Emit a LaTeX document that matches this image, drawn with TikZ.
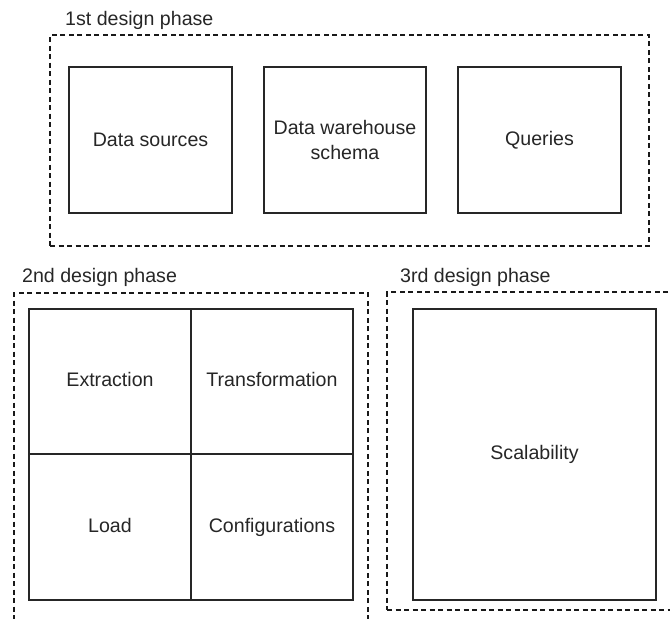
\documentclass[tikz,border=0pt]{standalone}
\usepackage{fontspec}
\setmainfont{Liberation Sans}
\usetikzlibrary{fit}
\usetikzlibrary{positioning}

\tikzset{
  phase/.style={draw=black!90, dash pattern=on 5pt off 3.5pt, line width=1.3pt, inner sep=0pt},
  phaselabel/.style={anchor=base west, inner sep=0pt, text=black!85},
  task/.style={draw=black!85, line width=1.6pt, outer sep=0pt, inner sep=2pt, align=center, text=black!85, minimum width=163pt, minimum height=146pt},
  cell/.style={draw=black!85, line width=1.6pt, outer sep=0pt, text=black!85, text height=14pt, text depth=4pt, minimum width=162pt, minimum height=145.5pt},
}

\begin{document}
\begin{tikzpicture}[x=1pt, y=-1pt, font=\fontsize{19.6}{24.5}\selectfont, node distance=32pt]
\useasboundingbox (0,0) rectangle (670,619);
\clip (0,0) rectangle (670,619);
% 1st design phase
\node[phaselabel] (label1) at (65,25) {1st design phase};
\node[phase, fit={(50,35) (649,246)}] (frame1) {};
\node[task] (sources) at (150.5,140) {Data sources};
\node[task, right=of sources, minimum width=162pt] (schema) {Data warehouse\\schema};
\node[task, right=of schema] (queries) {Queries};
% 2nd design phase
\node[phaselabel] (label2) at (22,282) {2nd design phase};
\node[phase, fit={(14,293) (368,640)}] (frame2) {};
\node[cell] (extract) at (110,381.5) {Extraction};
\node[cell, right=0pt of extract] (transform) {Transformation};
\node[cell, below=0pt of extract] (load) {Load};
\node[cell, right=0pt of load] (config) {Configurations};
% 3rd design phase
\node[phaselabel] (label3) at (400,282) {3rd design phase};
\node[phase, fit={(387,292) (700,610)}] (frame3) {};
\node[cell, minimum width=243pt, minimum height=291pt] (scale) at (534.5,454.5) {Scalability};
\end{tikzpicture}
\end{document}
